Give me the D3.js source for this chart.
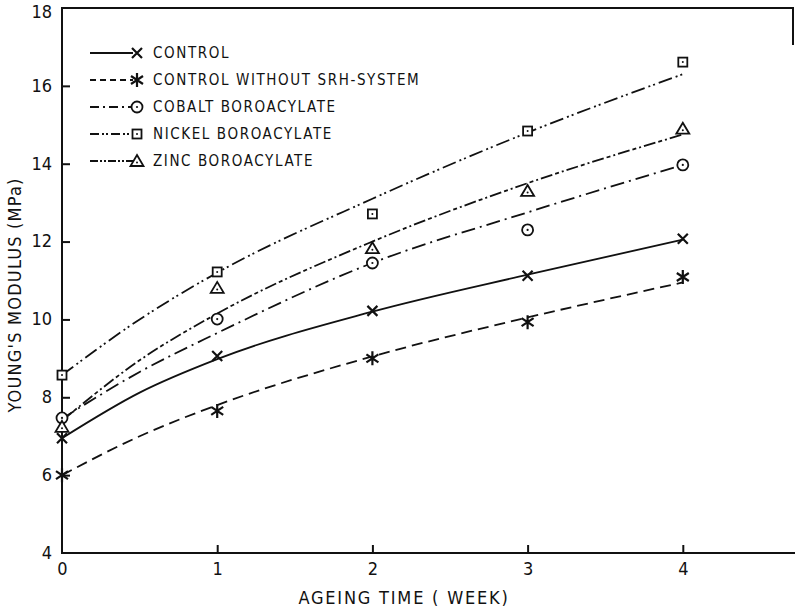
<!DOCTYPE html>
<html>
<head>
<meta charset="utf-8">
<script src="https://cdn.jsdelivr.net/npm/d3@7"></script>
<style>
    body { margin: 0; background: #fff; }
    svg text { font-family: "DejaVu Sans Condensed", "DejaVu Sans", sans-serif; fill: #111; }
</style>
</head>
<body>
<svg></svg>
<script>
// measured points (weeks 0..4)
const weeks = [0, 1, 2, 3, 4];
const controlPts = [6.95, 9.06, 10.22, 11.12, 12.07];
const noSrhPts = [6.0, 7.65, 9.0, 9.93, 11.09];
const cobaltPts = [7.47, 10.01, 11.45, 12.3, 13.97];
const nickelPts = [8.57, 11.22, 12.71, 14.84, 16.61];
const zincPts = [7.24, 10.81, 11.83, 13.3, 14.9];

// fitted curves
const fitWeeks = [0, 0.5, 1, 2, 3, 4];
const controlFit = [6.95, 8.12, 8.98, 10.2, 11.15, 12.05];
const noSrhFit = [6.0, 7.0, 7.8, 9.05, 10.05, 10.95];
const cobaltFit = [7.45, 8.65, 9.65, 11.45, 12.75, 13.97];
const nickelFit = [8.57, 10.0, 11.2, 13.1, 14.8, 16.3];
const zincFit = [7.4, 8.95, 10.15, 12.0, 13.5, 14.75];

const yTicks = [4, 6, 8, 10, 12, 14, 16, 18];
const xTicks = [0, 1, 2, 3, 4];

const seriesNames = ["CONTROL", "CONTROL WITHOUT SRH-SYSTEM", "COBALT BOROACYLATE", "NICKEL BOROACYLATE", "ZINC BOROACYLATE"];

let width = 795;
let height = 611;

let svg = d3.select("svg")
    .attr("width", width)
    .attr("height", height);

let x = d3.scaleLinear().domain([0, 4.71]).range([62, 793]);
let y = d3.scaleLinear().domain([4, 18]).range([553, 8]);

let series = [
    { name: seriesNames[0], pts: controlPts, fit: controlFit, dash: null, legendDash: null, marker: "cross" },
    { name: seriesNames[1], pts: noSrhPts, fit: noSrhFit, dash: "11,6", legendDash: "6,4", marker: "star" },
    { name: seriesNames[2], pts: cobaltPts, fit: cobaltFit, dash: "14,5,2,5", legendDash: "9,4,2,4", marker: "circle" },
    { name: seriesNames[3], pts: nickelPts, fit: nickelFit, dash: "14,4,2,3,2,4", legendDash: "9,3,2,2,2,3", marker: "square" },
    { name: seriesNames[4], pts: zincPts, fit: zincFit, dash: "12,3,4,3,2,3", legendDash: "8,2,2,2,2,2", marker: "triangle" }
];

// frame: left axis, bottom axis, top line and small right stub
let frame = svg.append("g").attr("stroke", "#111").attr("stroke-width", 2).attr("fill", "none");
frame.append("path").attr("d", `M${x(4.71)},${y(17.05)}V${y(18)}H${x(0)}V${y(4)}H${width}`);

// y ticks drawn inward
let yAxis = d3.axisLeft(y).tickValues(yTicks).tickSize(-8).tickPadding(10).tickFormat(d3.format("d"));
let gy = svg.append("g").attr("transform", `translate(${x(0)},0)`).call(yAxis);
gy.select(".domain").remove();
gy.selectAll(".tick line").attr("stroke", "#111").attr("stroke-width", 2)
    .filter(d => d === 4 || d === 18).remove();
gy.selectAll(".tick text").attr("font-size", 18).attr("dy", "0.3em")
    .filter(d => d === 18).attr("dy", "0.55em");

let xAxis = d3.axisBottom(x).tickValues(xTicks).tickSize(-8).tickPadding(8).tickFormat(d3.format("d"));
let gx = svg.append("g").attr("transform", `translate(0,${y(4)})`).call(xAxis);
gx.select(".domain").remove();
gx.selectAll(".tick line").attr("stroke", "#111").attr("stroke-width", 2)
    .filter(d => d === 0).remove();
gx.selectAll(".tick text").attr("font-size", 18).attr("dy", "0.75em");

// axis titles
svg.append("text")
    .attr("x", 404).attr("y", 604)
    .attr("text-anchor", "middle")
    .attr("font-size", 18)
    .attr("letter-spacing", 1.8)
    .text("AGEING TIME ( WEEK)");

svg.append("text")
    .attr("transform", `translate(21,295) rotate(-90)`)
    .attr("text-anchor", "middle")
    .attr("font-size", 18)
    .attr("letter-spacing", 1.2)
    .text("YOUNG'S MODULUS (MPa)");

// marker drawing
function drawMarker(g, type, cx, cy) {
    let m = g.append("g").attr("transform", `translate(${cx},${cy})`)
        .attr("stroke", "#111").attr("fill", "#fff").attr("stroke-width", 1.8);
    if (type === "cross") {
        m.append("path").attr("d", "M-5,-5L5,5M-5,5L5,-5").attr("stroke-width", 2.2);
    } else if (type === "star") {
        m.append("path").attr("d", "M0,-7V7M-6,-4L6,4M-6,4L6,-4").attr("stroke-width", 2.2);
    } else if (type === "circle") {
        m.append("circle").attr("r", 5.5);
        m.append("circle").attr("r", 1.1).attr("fill", "#111").attr("stroke", "none");
    } else if (type === "square") {
        m.append("rect").attr("x", -4.5).attr("y", -4.5).attr("width", 9).attr("height", 9);
        m.append("circle").attr("r", 1).attr("fill", "#111").attr("stroke", "none");
    } else if (type === "triangle") {
        m.append("path").attr("d", "M0,-6L6.5,5H-6.5Z");
        m.append("circle").attr("cy", 1.5).attr("r", 1).attr("fill", "#111").attr("stroke", "none");
    }
}

let line = d3.line()
    .x(d => x(d[0]))
    .y(d => y(d[1]))
    .curve(d3.curveMonotoneX);

let plot = svg.append("g");

series.forEach(s => {
    plot.append("path")
        .datum(d3.zip(fitWeeks, s.fit))
        .attr("d", line)
        .attr("fill", "none")
        .attr("stroke", "#111")
        .attr("stroke-width", 1.8)
        .attr("stroke-dasharray", s.dash);
});

series.forEach(s => {
    weeks.forEach((w, i) => drawMarker(plot, s.marker, x(w), y(s.pts[i])));
});

// legend
let legend = svg.append("g");
let legendY = d3.scalePoint().domain(seriesNames).range([53, 161]);

series.forEach(s => {
    let ly = legendY(s.name);
    legend.append("line")
        .attr("x1", 90).attr("x2", 133)
        .attr("y1", ly).attr("y2", ly)
        .attr("stroke", "#111").attr("stroke-width", 1.8)
        .attr("stroke-dasharray", s.legendDash);
    drawMarker(legend, s.marker, 137, ly);
    legend.append("text")
        .attr("x", 153).attr("y", ly)
        .attr("dy", "0.36em")
        .attr("font-size", 15)
        .attr("letter-spacing", 1.6)
        .text(s.name);
});
</script>
</body>
</html>
